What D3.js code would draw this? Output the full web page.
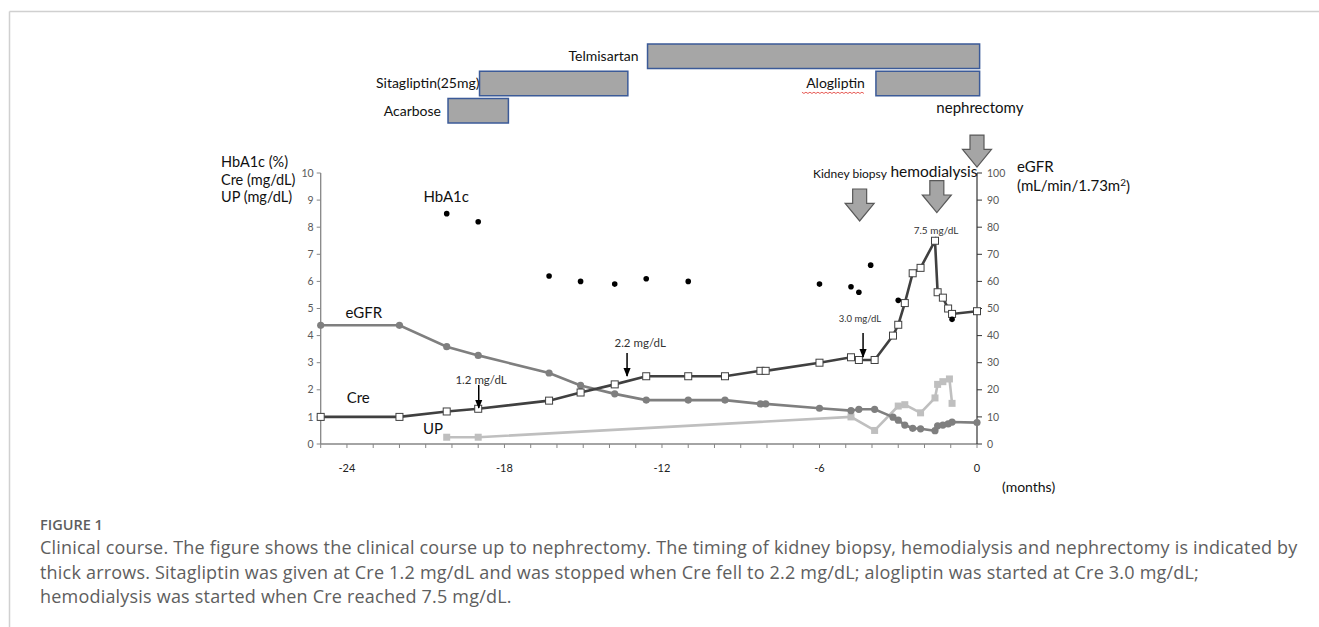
<!DOCTYPE html>
<html>
<head>
<meta charset="utf-8">
<script src="https://cdn.jsdelivr.net/npm/d3@7"></script>
<style>
  body { margin: 0; background: #fff; }
  svg text { font-family: Lato, "Liberation Sans", sans-serif; }
  .caption { font-family: "Open Sans", sans-serif; fill: #5e5e5e; }
</style>
</head>
<body>
<script>
// months before nephrectomy, shared by Cre and eGFR
var labMonths = [-25, -22, -20.2, -19, -16.3, -15.1, -13.8, -12.6, -11, -9.6, -8.25, -8.05,
    -6, -4.8, -4.5, -3.9, -3.2, -3.0, -2.75, -2.45, -2.15, -1.6, -1.5, -1.3, -1.1, -0.95, 0];
var creValues = [1.0, 1.0, 1.2, 1.3, 1.6, 1.9, 2.2, 2.5, 2.5, 2.5, 2.7, 2.7,
    3.0, 3.2, 3.1, 3.1, 4.0, 4.4, 5.2, 6.3, 6.5, 7.5, 5.6, 5.4, 5.0, 4.8, 4.9];
var egfrValues = [43.8, 43.8, 35.9, 32.7, 26.2, 21.6, 18.5, 16.2, 16.2, 16.2, 14.8, 14.8,
    13.2, 12.3, 12.8, 12.8, 9.9, 8.8, 7.0, 5.8, 5.6, 4.9, 6.7, 7.0, 7.4, 8.1, 7.9];

var upMonths = [-20.2, -19, -4.8, -3.9, -3.0, -2.75, -2.15, -1.6, -1.5, -1.3, -1.05, -0.95];
var upValues = [0.25, 0.25, 1.0, 0.5, 1.4, 1.45, 1.15, 1.7, 2.2, 2.3, 2.4, 1.5];

var hba1cMonths = [-20.2, -19, -16.3, -15.1, -13.8, -12.6, -11, -6, -4.8, -4.5, -4.05, -3.0, -0.95];
var hba1cValues = [8.5, 8.2, 6.2, 6.0, 5.9, 6.1, 6.0, 5.9, 5.8, 5.6, 6.6, 5.3, 4.6];

var xTickLabels = [-24, -18, -12, -6, 0];
var leftTicks = [0, 1, 2, 3, 4, 5, 6, 7, 8, 9, 10];
var rightTicks = [0, 10, 20, 30, 40, 50, 60, 70, 80, 90, 100];

// drug periods: name, row, start month, end month
var drugNames = ['Telmisartan', 'Sitagliptin(25mg)', 'Alogliptin', 'Acarbose'];
var drugRows = [0, 1, 1, 2];
var drugStart = [-12.55, -18.95, -3.85, -20.15];
var drugEnd = [0.1, -13.3, 0.1, -17.85];

// events with thick arrows
var eventNames = ['Kidney biopsy', 'hemodialysis', 'nephrectomy'];
var eventMonths = [-4.47, -1.53, 0];

// Cre annotations with thin arrows
var creNotes = ['1.2 mg/dL', '2.2 mg/dL', '3.0 mg/dL', '7.5 mg/dL'];
var creNoteMonths = [-18.98, -13.33, -4.34, -1.56];

var captionLines = [
    'Clinical course. The figure shows the clinical course up to nephrectomy. The timing of kidney biopsy, hemodialysis and nephrectomy is indicated by',
    'thick arrows. Sitagliptin was given at Cre 1.2 mg/dL and was stopped when Cre fell to 2.2 mg/dL; alogliptin was started at Cre 3.0 mg/dL;',
    'hemodialysis was started when Cre reached 7.5 mg/dL.'
];

var width = 1319, height = 627;
var svg = d3.select('body').append('svg')
    .attr('width', width)
    .attr('height', height);

// page frame lines
svg.append('line').attr('x1', 9.5).attr('x2', width).attr('y1', 11.5).attr('y2', 11.5)
    .attr('stroke', '#d0d0d0').attr('stroke-width', 1.5);
svg.append('line').attr('x1', 9.5).attr('x2', 9.5).attr('y1', 11.5).attr('y2', height)
    .attr('stroke', '#d0d0d0').attr('stroke-width', 1.5);

var x = d3.scaleLinear().domain([-25, 0]).range([320.7, 977]);
var yL = d3.scaleLinear().domain([0, 10]).range([444, 173]);
var yR = d3.scaleLinear().domain([0, 100]).range([444, 173]);
var rowScale = d3.scaleBand().domain([0, 1, 2]).range([44, 123]).paddingInner(0.1);

// ---- drug bars
var labelGap = { 'Telmisartan': 9, 'Sitagliptin(25mg)': 0, 'Alogliptin': 11, 'Acarbose': 7 };
drugNames.forEach(function (name, i) {
    var y0 = rowScale(drugRows[i]);
    svg.append('rect')
        .attr('x', x(drugStart[i]))
        .attr('y', y0)
        .attr('width', x(drugEnd[i]) - x(drugStart[i]))
        .attr('height', rowScale.bandwidth())
        .attr('fill', '#a6a6a6')
        .attr('stroke', '#3b5a98')
        .attr('stroke-width', 1.5);
    svg.append('text')
        .attr('x', x(drugStart[i]) - labelGap[name])
        .attr('y', y0 + rowScale.bandwidth() / 2)
        .attr('dy', '0.35em')
        .attr('text-anchor', 'end')
        .attr('font-size', 14)
        .attr('fill', '#111')
        .text(name);
    if (name === 'Alogliptin') {
        // spell-check squiggle
        var x1 = x(drugStart[i]) - labelGap[name] - 63, x2 = x(drugStart[i]) - labelGap[name];
        var pts = d3.range(x1, x2, 2).map(function (px, k) { return [px, y0 + 21 + (k % 2 ? 1.2 : 0)]; });
        svg.append('path').attr('d', d3.line()(pts)).attr('fill', 'none')
            .attr('stroke', '#e0302a').attr('stroke-width', 0.8);
    }
});

// ---- axes
var axisG = svg.append('g');
axisG.append('line').attr('x1', x(-25)).attr('x2', x(-25)).attr('y1', yL(10)).attr('y2', yL(0))
    .attr('stroke', '#868686').attr('stroke-width', 1.3);
axisG.append('line').attr('x1', x(-25)).attr('x2', x(0)).attr('y1', yL(0)).attr('y2', yL(0))
    .attr('stroke', '#868686').attr('stroke-width', 1.3);
axisG.append('line').attr('x1', x(0)).attr('x2', x(0)).attr('y1', yR(100)).attr('y2', yR(0))
    .attr('stroke', '#333').attr('stroke-width', 1.2);

axisG.selectAll('.lt').data(leftTicks).enter().append('line')
    .attr('x1', x(-25) - 4).attr('x2', x(-25))
    .attr('y1', d => yL(d)).attr('y2', d => yL(d))
    .attr('stroke', '#868686');
axisG.selectAll('.ltl').data(leftTicks).enter().append('text')
    .attr('x', x(-25) - 7).attr('y', d => yL(d)).attr('dy', '0.35em')
    .attr('text-anchor', 'end').attr('font-size', 10.5).attr('fill', '#595959')
    .text(d => d);

axisG.selectAll('.rt').data(rightTicks).enter().append('line')
    .attr('x1', x(0)).attr('x2', x(0) + 5)
    .attr('y1', d => yR(d)).attr('y2', d => yR(d))
    .attr('stroke', '#333');
axisG.selectAll('.rtl').data(rightTicks).enter().append('text')
    .attr('x', x(0) + 10).attr('y', d => yR(d)).attr('dy', '0.35em')
    .attr('font-size', 10.5).attr('fill', '#595959')
    .text(d => d);

axisG.selectAll('.xt').data(d3.range(-25, 1)).enter().append('line')
    .attr('x1', d => x(d)).attr('x2', d => x(d))
    .attr('y1', yL(0)).attr('y2', yL(0) + 4)
    .attr('stroke', '#868686');
axisG.selectAll('.xtl').data(xTickLabels).enter().append('text')
    .attr('x', d => x(d)).attr('y', 468).attr('dy', '0.35em')
    .attr('text-anchor', 'middle').attr('font-size', 11).attr('fill', '#222')
    .text(d => d);
svg.append('text').attr('x', 1002).attr('y', 487).attr('dy', '0.35em')
    .attr('font-size', 14).attr('fill', '#111').text('(months)');

// axis titles
['HbA1c (%)', 'Cre (mg/dL)', 'UP (mg/dL)'].forEach(function (t, i) {
    svg.append('text').attr('x', 221).attr('y', 162 + i * 17.5).attr('dy', '0.35em')
        .attr('font-size', 14.5).attr('fill', '#111').text(t);
});
svg.append('text').attr('x', 1017).attr('y', 167).attr('dy', '0.35em')
    .attr('font-size', 15).attr('fill', '#111').text('eGFR');
var unitT = svg.append('text').attr('x', 1017).attr('y', 186).attr('dy', '0.35em')
    .attr('font-size', 15).attr('fill', '#111');
unitT.append('tspan').text('(mL/min/1.73m');
unitT.append('tspan').attr('font-size', 10).attr('dy', '-0.5em').text('2');
unitT.append('tspan').attr('dy', '0.35em').text(')');

// ---- series
var creData = labMonths.map((m, i) => [m, creValues[i]]);
var egfrData = labMonths.map((m, i) => [m, egfrValues[i]]);
var upData = upMonths.map((m, i) => [m, upValues[i]]);
var hbData = hba1cMonths.map((m, i) => [m, hba1cValues[i]]);

var lineL = d3.line().x(d => x(d[0])).y(d => yL(d[1]));
var lineR = d3.line().x(d => x(d[0])).y(d => yR(d[1]));

svg.append('path').attr('d', lineL(upData)).attr('fill', 'none')
    .attr('stroke', '#bfbfbf').attr('stroke-width', 2.6);
svg.selectAll('.upm').data(upData).enter().append('rect')
    .attr('x', d => x(d[0]) - 3.5).attr('y', d => yL(d[1]) - 3.5)
    .attr('width', 7).attr('height', 7).attr('fill', '#bfbfbf');

svg.append('path').attr('d', lineR(egfrData)).attr('fill', 'none')
    .attr('stroke', '#7f7f7f').attr('stroke-width', 2.6);
svg.selectAll('.egm').data(egfrData).enter().append('circle')
    .attr('cx', d => x(d[0])).attr('cy', d => yR(d[1])).attr('r', 3.6)
    .attr('fill', '#7f7f7f');

svg.append('path').attr('d', lineL(creData)).attr('fill', 'none')
    .attr('stroke', '#404040').attr('stroke-width', 2.6);
svg.selectAll('.crm').data(creData).enter().append('rect')
    .attr('x', d => x(d[0]) - 3.5).attr('y', d => yL(d[1]) - 3.5)
    .attr('width', 7).attr('height', 7).attr('fill', '#fff')
    .attr('stroke', '#404040').attr('stroke-width', 1);

svg.selectAll('.hbm').data(hbData).enter().append('circle')
    .attr('cx', d => x(d[0])).attr('cy', d => yL(d[1])).attr('r', 2.8)
    .attr('fill', '#000');

// ---- series labels
[['HbA1c', -20.22, 9.11, 15], ['eGFR', -23.36, 4.83, 15], ['Cre', -23.57, 1.70, 15], ['UP', -20.72, 0.55, 15]]
    .forEach(function (d) {
        svg.append('text').attr('x', x(d[1])).attr('y', yL(d[2])).attr('dy', '0.35em')
            .attr('text-anchor', 'middle').attr('font-size', d[3]).attr('fill', '#111').text(d[0]);
    });

// ---- Cre notes
svg.append('defs').append('marker')
    .attr('id', 'ah').attr('viewBox', '0 0 10 10').attr('refX', 9).attr('refY', 5)
    .attr('markerWidth', 6).attr('markerHeight', 6).attr('orient', 'auto')
    .append('path').attr('d', 'M0,1L10,5L0,9Z').attr('fill', '#000');

var noteText = [[-18.89, 2.36, 11.5], [-12.83, 3.73, 11.5], [-4.46, 4.61, 9.5], [-1.56, 7.87, 10]];
var noteArrow = [[2.18, 1.33], [3.36, 2.51], [4.10, 3.21], null];
creNotes.forEach(function (t, i) {
    svg.append('text').attr('x', x(noteText[i][0])).attr('y', yL(noteText[i][1])).attr('dy', '0.35em')
        .attr('text-anchor', 'middle').attr('font-size', noteText[i][2]).attr('fill', '#333').text(t);
    if (noteArrow[i]) {
        svg.append('line')
            .attr('x1', x(creNoteMonths[i])).attr('x2', x(creNoteMonths[i]))
            .attr('y1', yL(noteArrow[i][0])).attr('y2', yL(noteArrow[i][1]))
            .attr('stroke', '#000').attr('stroke-width', 1.5).attr('marker-end', 'url(#ah)');
    }
});

// ---- event arrows
var eventTop = [9.41, 9.72, 11.4];
var eventLabel = [[-4.84, 9.96, 12], [-1.64, 10.07, 15.5], [0.11, 12.4, 15]];
function blockArrow(cx, top, tip) {
    var sw = 7, hw = 14.5, shaftEnd = top + (tip - top) * 0.45;
    return 'M' + (cx - sw) + ',' + top + 'H' + (cx + sw) + 'V' + shaftEnd + 'H' + (cx + hw) +
        'L' + cx + ',' + tip + 'L' + (cx - hw) + ',' + shaftEnd + 'H' + (cx - sw) + 'Z';
}
eventNames.forEach(function (name, i) {
    var top = yL(eventTop[i]);
    svg.append('path').attr('d', blockArrow(x(eventMonths[i]), top, top + 32))
        .attr('fill', '#a5a5a5').attr('stroke', '#595959').attr('stroke-width', 1.2);
    svg.append('text').attr('x', x(eventLabel[i][0])).attr('y', yL(eventLabel[i][1])).attr('dy', '0.35em')
        .attr('text-anchor', 'middle').attr('font-size', eventLabel[i][2]).attr('fill', '#111').text(name);
});

// ---- caption
svg.append('text').attr('class', 'caption').attr('x', 40).attr('y', 530)
    .attr('font-size', 14.5).attr('font-weight', 600).attr('fill', '#666').text('FIGURE 1');
captionLines.forEach(function (line, i) {
    svg.append('text').attr('class', 'caption').attr('x', 40).attr('y', 554 + i * 24.5)
        .attr('font-size', 18).attr('letter-spacing', 0.2).text(line);
});
</script>
</body>
</html>
